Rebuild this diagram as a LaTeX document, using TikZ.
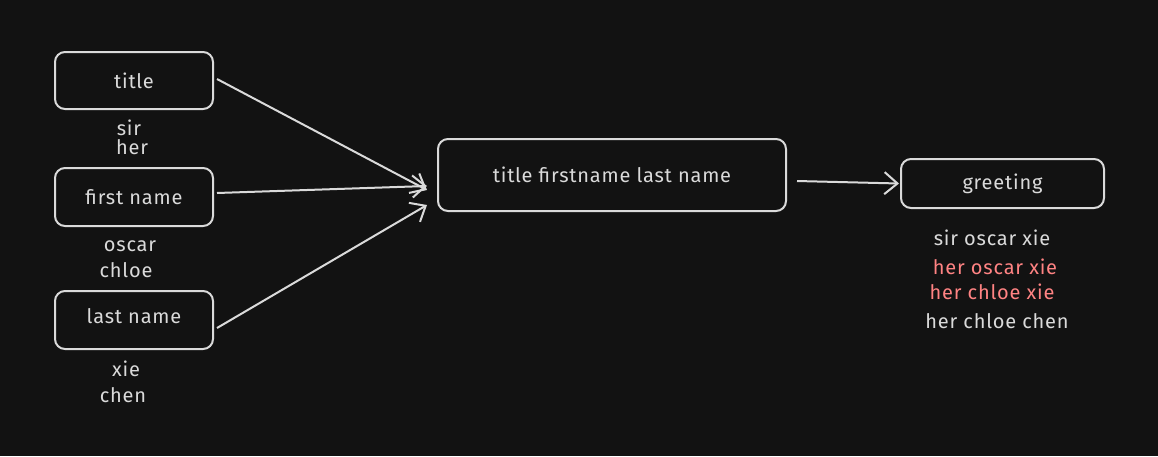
\documentclass[tikz,border=0pt]{standalone}
\usepackage{fontspec}
\setmainfont{Fira Sans}[LetterSpace=4]
\usetikzlibrary{arrows.meta}
\definecolor{bg}{HTML}{121212}
\definecolor{ink}{HTML}{DADADA}
\definecolor{redtxt}{HTML}{FF8383}
\tikzset{
  box/.style={draw=ink, line width=2pt, rounded corners=10pt, inner sep=0pt, text=ink, font=\fontsize{20}{24}\selectfont},
  lbl/.style={text=ink, inner sep=0pt, font=\fontsize{20}{24}\selectfont},
  redlbl/.style={lbl, text=redtxt},
  conn/.style={draw=ink, line width=2pt, -{Straight Barb[length=13pt,width=22pt,line width=2pt]}}
}
\begin{document}
\begin{tikzpicture}[x=1pt,y=-1pt]
\fill[bg] (0,0) rectangle (1158,456);
\useasboundingbox (0,0) rectangle (1158,456);
\node[box, minimum width=158pt, minimum height=57pt] (title) at (134,80.5) {title};
\node[box, minimum width=158pt, minimum height=58pt] (first) at (134,197) {first name};
\node[box, minimum width=158pt, minimum height=58pt, text depth=8pt] (last) at (134,320) {last name};
\node[box, minimum width=348pt, minimum height=72pt] (full) at (612,175) {title firstname last name};
\node[box, minimum width=203pt, minimum height=49pt] (greet) at (1002.5,183.5) {greeting};

\node[lbl] (t1) at (129,128) {sir};
\node[lbl] (t2) at (132,147) {her};
\node[lbl] (f1) at (130,246) {oscar};
\node[lbl] (f2) at (126,270) {chloe};
\node[lbl] (l1) at (126,369) {xie};
\node[lbl] (l2) at (123,395) {chen};

\node[lbl] (g1) at (992,238) {sir oscar xie};
\node[redlbl] (g2) at (995,267) {her oscar xie};
\node[redlbl] (g3) at (992,292) {her chloe xie};
\node[lbl] (g4) at (997,321) {her chloe chen};

\coordinate (a1s) at (217,79);
\coordinate (a2s) at (217,193);
\coordinate (a3s) at (217,328);
\coordinate (a4s) at (797,181);
\draw[conn] (a1s) -- ([xshift=-10pt,yshift=-15pt]full.west);
\draw[conn] (a2s) -- ([xshift=-10pt,yshift=-11pt]full.west);
\draw[conn] (a3s) -- ([xshift=-10pt,yshift=-30pt]full.west);
\draw[conn] (a4s) -- ([xshift=-1pt]greet.west);
\end{tikzpicture}
\end{document}
